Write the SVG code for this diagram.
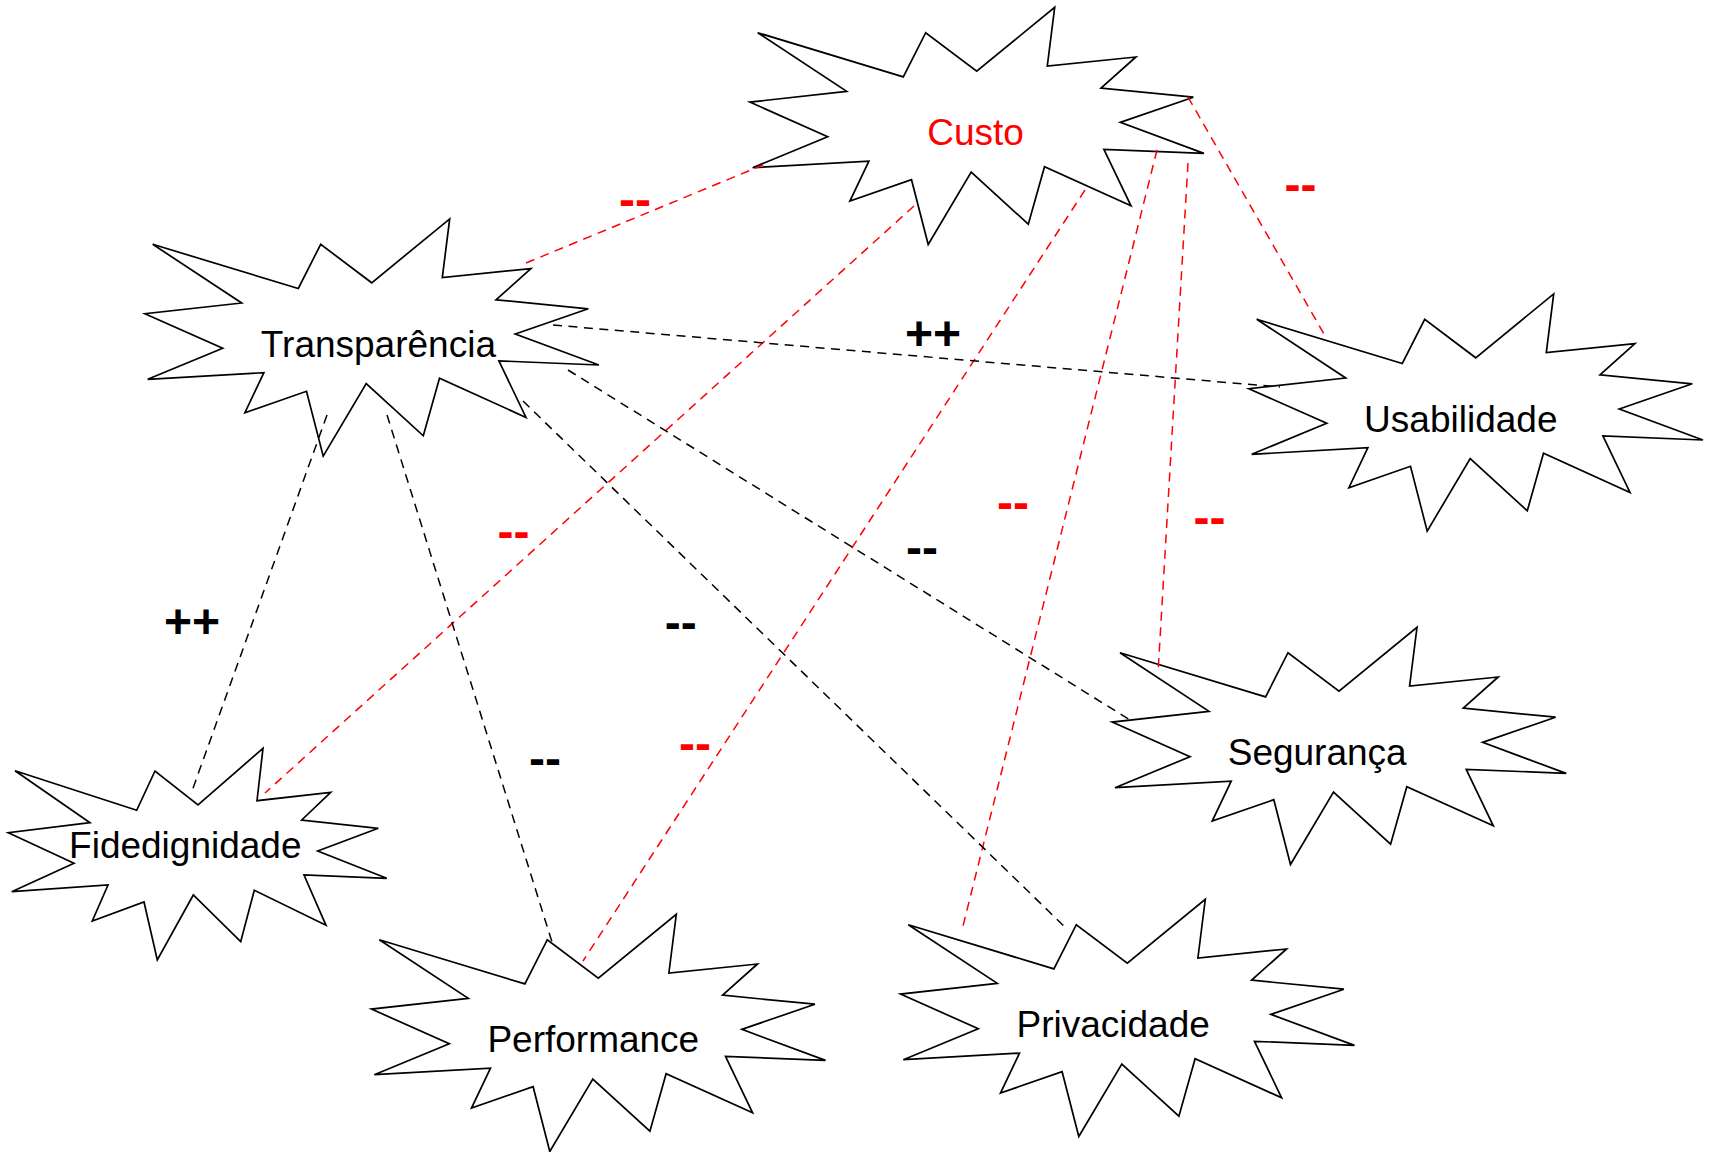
<svg xmlns="http://www.w3.org/2000/svg" width="1716" height="1152" viewBox="0 0 1716 1152">
<style>
.bg{fill:#ffffff}
.star{fill:#ffffff;stroke:#000000;stroke-width:1.7;stroke-linejoin:miter}
.lbl{font-family:"Liberation Sans",Arial,sans-serif;font-size:37px;text-anchor:middle;fill:#000000}
.red{fill:#ff0000}
.c{fill:none;stroke-width:1.5;stroke-dasharray:9 6.5}
.cr{stroke:#ff0000}
.cb{stroke:#000000}
.sign{font-family:"Liberation Sans",Arial,sans-serif;font-size:48px;font-weight:bold;text-anchor:middle}
.sr{fill:#ff0000}
.sb{fill:#000000}
</style>
<defs>
<polygon id="burst" points="0,0 145.6,44.2 168,0 219,38.5 297,-25.4 289.6,33.3 378.2,24.3 343.3,55.5 435.6,64.5 362.6,89.7 446.2,120.7 346.2,116.6 373.3,173.1 286.8,134 270.6,191.5 213.5,139.3 170.5,211.8 153.8,147 92.2,168.4 111.2,128.4 -5,135 70,104 -7.8,69.4 89,58.7"/>
</defs>
<rect class="bg" x="0" y="0" width="1716" height="1152"/>
<g id="node-custo">
<use href="#burst" class="star" transform="translate(757.7,32.7)"/>
<text class="lbl red" x="975.5" y="145">Custo</text>
</g>
<g id="node-transparencia">
<use href="#burst" class="star" transform="translate(152.7,244.3)"/>
<text class="lbl" x="378.4" y="357">Transparência</text>
</g>
<g id="node-usabilidade">
<use href="#burst" class="star" transform="translate(1256.7,319.3)"/>
<text class="lbl" x="1460.8" y="431.7">Usabilidade</text>
</g>
<g id="node-seguranca">
<use href="#burst" class="star" transform="translate(1120,652.7)"/>
<text class="lbl" x="1317.2" y="765">Segurança</text>
</g>
<g id="node-fidedignidade">
<polygon class="star" points="15,770.7 136.7,810.3 155,771 198,805 263,748.3 257,800.7 330.7,792.3 301.7,820 378.3,828.3 317.7,851 386.7,878.3 304,875 326,925.3 254.3,890.3 240.7,941.7 193.3,895 157.3,960 144,902 92.3,921 108,885 11.7,891.7 74,863.3 8.3,832.7 90,822.7"/>
<text class="lbl" x="185.3" y="858.3">Fidedignidade</text>
</g>
<g id="node-performance">
<use href="#burst" class="star" transform="translate(379.3,939.7)"/>
<text class="lbl" x="593.3" y="1051.7">Performance</text>
</g>
<g id="node-privacidade">
<use href="#burst" class="star" transform="translate(908.3,924.7)"/>
<text class="lbl" x="1113.2" y="1036.7">Privacidade</text>
</g>
<g id="connectors">
<line class="c cr" x1="526" y1="263" x2="763" y2="165"/>
<line class="c cr" x1="914" y1="206" x2="265" y2="793"/>
<line class="c cr" x1="1085" y1="190" x2="583" y2="961"/>
<line class="c cr" x1="1157" y1="150" x2="962" y2="930"/>
<line class="c cr" x1="1188" y1="163" x2="1158" y2="673"/>
<line class="c cr" x1="1188" y1="97" x2="1324" y2="334"/>
<line class="c cb" x1="553" y1="325" x2="1280" y2="387"/>
<line class="c cb" x1="568" y1="370" x2="1130" y2="720"/>
<line class="c cb" x1="523" y1="401" x2="1068" y2="930"/>
<line class="c cb" x1="387" y1="415" x2="552" y2="942"/>
<line class="c cb" x1="327" y1="415" x2="192" y2="791"/>
</g>
<g id="signs">
<text class="sign sr" x="635" y="215.6">--</text>
<text class="sign sr" x="1300.5" y="200.6">--</text>
<text class="sign sb" x="933" y="350.3">++</text>
<text class="sign sr" x="513.6" y="548.3">--</text>
<text class="sign sr" x="1012.9" y="518.6">--</text>
<text class="sign sr" x="1209.6" y="533.6">--</text>
<text class="sign sb" x="922" y="563.6">--</text>
<text class="sign sb" x="192" y="638.3">++</text>
<text class="sign sb" x="680.7" y="639.3">--</text>
<text class="sign sr" x="695" y="760.4">--</text>
<text class="sign sb" x="545" y="775.3">--</text>
</g>
</svg>
